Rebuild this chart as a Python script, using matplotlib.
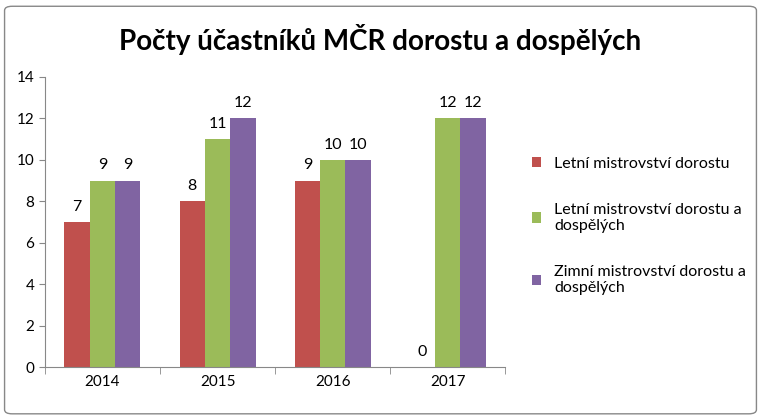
import matplotlib.pyplot as plt
import numpy as np
from matplotlib.patches import FancyBboxPatch

years = ["2014", "2015", "2016", "2017"]
letni_dorost = [7, 8, 9, 0]
letni_dorost_dosp = [9, 11, 10, 12]
zimni_dorost_dosp = [9, 12, 10, 12]
series_names = ["Letní mistrovství dorostu",
                "Letní mistrovství dorostu a\ndospělých",
                "Zimní mistrovství dorostu a\ndospělých"]
colors = ["#C0504D", "#9BBB59", "#8064A2"]

plt.rcParams["font.family"] = "Lato"

fig = plt.figure(figsize=(7.61, 4.18), dpi=100)
fig.patches.append(FancyBboxPatch((0.006, 0.01), 0.988, 0.975, boxstyle="round,pad=0,rounding_size=0.01",
                                  transform=fig.transFigure, fill=False, ec="#888888", lw=1))
ax = fig.add_axes([0.059, 0.122, 0.605, 0.694])

x = np.arange(len(years))
w = 0.22
for i, (vals, name, c) in enumerate(zip([letni_dorost, letni_dorost_dosp, zimni_dorost_dosp], series_names, colors)):
    bars = ax.bar(x + (i - 1) * w, vals, w, color=c, label=name)
    for b, v in zip(bars, vals):
        ax.text(b.get_x() + b.get_width() / 2, v + 0.4, str(v), ha="center", va="bottom", fontsize=11.5)

ax.set_xlim(-0.5, 3.5)
ax.set_ylim(0, 14)
ax.set_yticks(range(0, 15, 2))
ax.set_xticks(x)
ax.set_xticklabels(years)
ax.set_xticks(np.arange(-0.5, 4, 1), minor=True)
ax.tick_params(axis="x", which="major", length=0, labelsize=11, pad=6)
ax.tick_params(axis="x", which="minor", length=5, color="#888888")
ax.tick_params(axis="y", labelsize=11, length=4, color="#888888")
for s in ["top", "right"]:
    ax.spines[s].set_visible(False)
for s in ["left", "bottom"]:
    ax.spines[s].set_color("#888888")

fig.text(0.5, 0.905, "Počty účastníků MČR dorostu a dospělých", ha="center", va="center",
         fontsize=20, fontweight="bold")
fig.legend(loc="center left", bbox_to_anchor=(0.68, 0.46), frameon=False, fontsize=11.5,
           handlelength=0.6, handleheight=0.6, labelspacing=2.0)

fig.savefig("out.png", dpi=100)
